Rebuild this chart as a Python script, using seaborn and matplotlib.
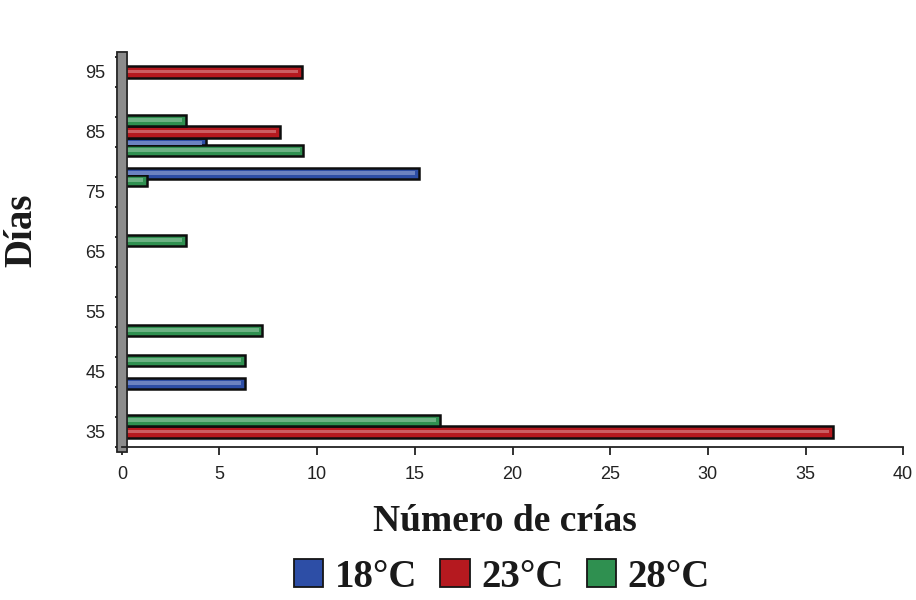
import numpy as np
import pandas as pd
import matplotlib
matplotlib.use("Agg")
import matplotlib.pyplot as plt
import matplotlib.patheffects as pe
import matplotlib.colors as mcolors
from matplotlib.patches import Patch, Rectangle
import seaborn as sns

# Días de muestreo y número de crías por temperatura
dias = [35, 40, 45, 50, 55, 60, 65, 70, 75, 80, 85, 90, 95]
crias_18 = [0, 0, 6.3, 0, 0, 0, 0, 0, 0, 15.2, 4.3, 0, 0]
crias_23 = [36.4, 0, 0, 0, 0, 0, 0, 0, 0, 0, 8.1, 0, 9.2]
crias_28 = [16.3, 0, 6.3, 7.2, 0, 0, 3.3, 0, 1.3, 9.3, 3.3, 0, 0]
temperaturas = ["18°C", "23°C", "28°C"]
colores = ["#2d4ea6", "#b5191f", "#2f9050"]
x_ticks = [0, 5, 10, 15, 20, 25, 30, 35, 40]

sns.set_theme(style="white")
plt.rcParams["font.family"] = ["Liberation Sans", "DejaVu Sans"]

df = pd.DataFrame({
    "dia": [str(d) for d in dias] * 3,
    "crias": crias_18 + crias_23 + crias_28,
    "temp": [t for t in temperaturas for _ in dias],
})

fig = plt.figure(figsize=(9.16, 6.0), dpi=100)
ax = fig.add_axes([0.133, 0.255, 0.853, 0.650])

sns.barplot(
    data=df, y="dia", x="crias", hue="temp", orient="h",
    order=[str(d) for d in dias], hue_order=temperaturas,
    palette=colores, saturation=1, width=1.15, edgecolor="#0d0d0d",
    linewidth=1.8, legend=False, ax=ax,
)
ax.invert_yaxis()
ax.set_ylim(-0.5, len(dias) - 0.5)
ax.set_xlim(0, 40)

# Brillo central en cada barra para dar sensación de volumen
for bar in list(ax.patches):
    w = bar.get_width()
    if w <= 0:
        continue
    y0, h = bar.get_y(), bar.get_height()
    base = np.array(mcolors.to_rgb(bar.get_facecolor()))
    light = np.clip(base + (1 - base) * 0.3, 0, 1)
    ax.add_patch(Rectangle((bar.get_x() + 0.15, y0 + h * 0.4), max(w - 0.35, 0),
                           h * 0.3, facecolor=light, edgecolor="none",
                           zorder=bar.get_zorder() + 0.1))

# Etiquetas del eje de días cada dos categorías, marcas entre categorías
ax.set_yticks(range(0, len(dias), 2))
ax.set_yticklabels([str(d) for d in dias[::2]])
ax.set_yticks(np.arange(-0.5, len(dias), 1.0), minor=True)
ax.tick_params(axis="y", which="major", length=0, pad=12, labelsize=13, colors="#222222")
ax.tick_params(axis="y", which="minor", left=True, length=5, width=1.3, color="#222222")

ax.set_xticks(x_ticks)
ax.set_xticklabels([str(v) for v in x_ticks])
ax.tick_params(axis="x", which="major", bottom=True, length=6, width=1.3,
               color="#222222", labelsize=13, pad=8, colors="#222222")

for s in ["top", "right"]:
    ax.spines[s].set_visible(False)
ax.spines["bottom"].set_color("#222222")
ax.spines["bottom"].set_linewidth(1.3)
ax.spines["left"].set_color("#8c8c8c")
ax.spines["left"].set_linewidth(6)
ax.spines["left"].set_path_effects([pe.withStroke(linewidth=8.5, foreground="#202020")])

serif = ["Liberation Serif", "DejaVu Serif"]
ax.set_xlabel("Número de crías", fontsize=27, fontweight="bold", family=serif, color="#1a1a1a")
ax.xaxis.set_label_coords(0.49, -0.147)
ax.set_ylabel("Días", fontsize=28, fontweight="bold", family=serif, color="#1a1a1a")
ax.yaxis.set_label_coords(-0.104, 0.556)

handles = [Patch(facecolor=c, edgecolor="#151515", linewidth=1.3) for c in colores]
fig.legend(
    handles, temperaturas, loc="center", bbox_to_anchor=(0.548, 0.038),
    ncol=3, frameon=False, prop={"family": serif, "weight": "bold", "size": 28},
    handlelength=0.75, handleheight=0.75, handletextpad=0.3, columnspacing=0.6,
    labelcolor="#1a1a1a", borderpad=0.1,
)

fig.savefig("out.png", dpi=100, facecolor="white")
